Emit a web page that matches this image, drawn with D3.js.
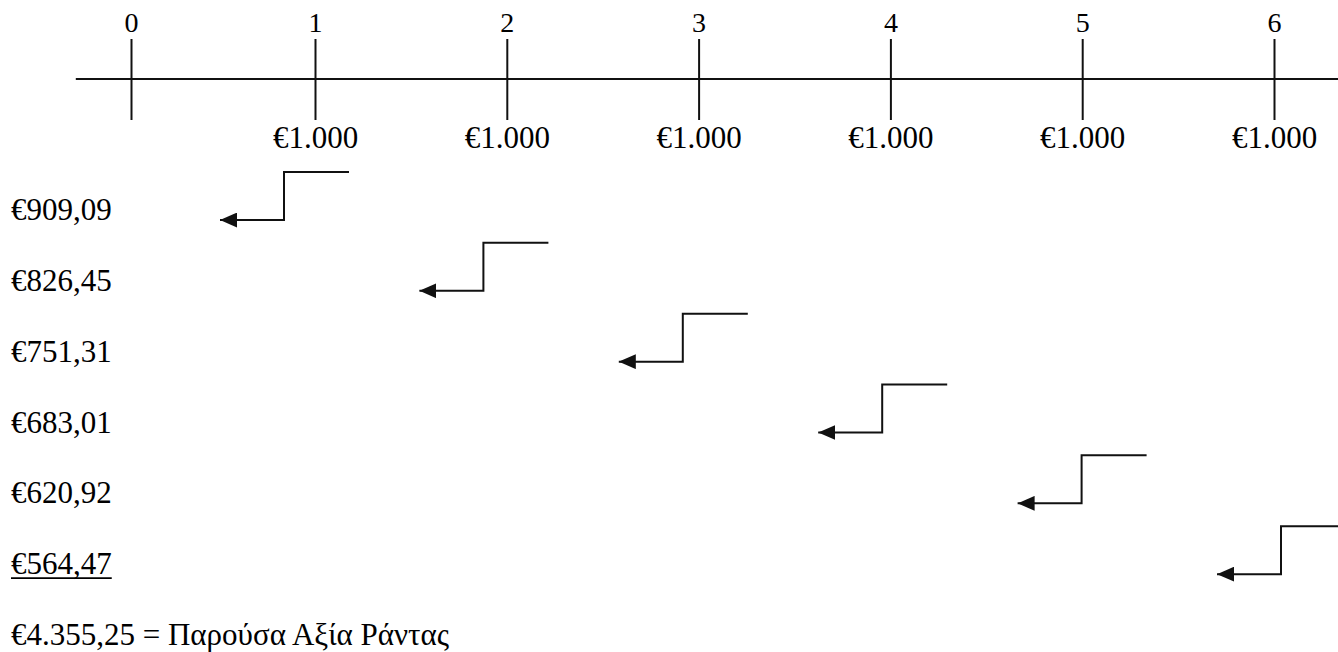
<!DOCTYPE html>
<html lang="el">
<head>
<meta charset="utf-8">
<title>Παρούσα Αξία Ράντας</title>
<script src="https://cdn.jsdelivr.net/npm/d3@7"></script>
<style>
  html, body { margin: 0; padding: 0; background: #fff; }
  svg { display: block; }
</style>
</head>
<body>
<script>
// Time periods of the annuity and the payment received at the end of each one
const periods = [0, 1, 2, 3, 4, 5, 6];
const payments = [0, 1000, 1000, 1000, 1000, 1000, 1000];
// Each payment discounted back to period 0
const presentValues = [909.09, 826.45, 751.31, 683.01, 620.92, 564.47];
const totalLabel = "Παρούσα Αξία Ράντας";

const W = 1338, H = 652;
const FONT = "'Liberation Serif', 'Times New Roman', serif";
const INK = "#111";

// Greek number formatting: comma decimals, dot thousands, euro prefix
const el = d3.formatLocale({ decimal: ",", thousands: ".", grouping: [3], currency: ["€", ""] });
const eur0 = el.format("$,.0f");
const eur2 = el.format("$,.2f");

const svg = d3.select("body").append("svg")
  .attr("width", W).attr("height", H)
  .attr("viewBox", `0 0 ${W} ${H}`);

// Horizontal time line
const x = d3.scaleLinear().domain([0, 1, 6]).range([131, 315, 1274]);
const axisY = 79;

svg.append("line")
  .attr("x1", x(-0.3)).attr("x2", W)
  .attr("y1", axisY).attr("y2", axisY)
  .attr("stroke", INK).attr("stroke-width", 2);

// Period numbers and upper half of the ticks
const gTop = svg.append("g")
  .attr("transform", `translate(0,${axisY})`)
  .call(d3.axisTop(x).tickValues(periods).tickSize(40).tickPadding(7).tickFormat(d3.format("d")));
gTop.select(".domain").remove();

// Payments and lower half of the ticks
const gBottom = svg.append("g")
  .attr("transform", `translate(0,${axisY})`)
  .call(d3.axisBottom(x).tickValues(periods).tickSize(41).tickPadding(6)
    .tickFormat((d, i) => payments[i] ? eur0(payments[i]) : ""));
gBottom.select(".domain").remove();

[gTop, gBottom].forEach(g => {
  g.attr("font-family", FONT);
  g.selectAll(".tick line").attr("stroke", INK).attr("stroke-width", 2);
  g.selectAll(".tick text").attr("fill", "#000");
});
gTop.attr("font-size", 28);
gBottom.attr("font-size", 31);

// Discounted values listed one per row
const yRow = d3.scaleLinear().domain([0, presentValues.length]).range([220, 645]);

const pvText = svg.append("g")
  .selectAll("text")
  .data(presentValues)
  .join("text")
  .attr("x", 11)
  .attr("y", (d, i) => yRow(i))
  .attr("font-family", FONT)
  .attr("font-size", 31)
  .attr("fill", "#000")
  .text(d => eur2(d));

// The last value is underlined before the sum
const lastNode = pvText.filter((d, i) => i === presentValues.length - 1).node();
const lastWidth = lastNode.getComputedTextLength();
const lastY = yRow(presentValues.length - 1) + 4;
svg.append("line")
  .attr("x1", 11).attr("x2", 11 + lastWidth)
  .attr("y1", lastY).attr("y2", lastY)
  .attr("stroke", "#000").attr("stroke-width", 1.6);

svg.append("text")
  .attr("x", 11)
  .attr("y", yRow(presentValues.length))
  .attr("font-family", FONT)
  .attr("font-size", 31)
  .attr("fill", "#000")
  .text(`${eur2(d3.sum(presentValues))} = ${totalLabel}`);

// Stepped arrows carrying each payment back to its present value
svg.append("defs").append("marker")
  .attr("id", "head")
  .attr("viewBox", "0 0 16 14")
  .attr("refX", 16).attr("refY", 7)
  .attr("markerWidth", 17).attr("markerHeight", 15)
  .attr("markerUnits", "userSpaceOnUse")
  .attr("orient", "auto")
  .append("path")
  .attr("d", "M0,0 L16,7 L0,14 Z")
  .attr("fill", INK);

const stepX = d3.scaleLinear().domain([1, 6]).range([284, 1281]);
const riseH = 48, topLen = 65, tailLen = 64;

svg.append("g")
  .selectAll("path")
  .data(presentValues)
  .join("path")
  .attr("d", (d, i) => {
    const vx = stepX(i + 1), yb = yRow(i), yt = yb - riseH;
    const p = d3.path();
    p.moveTo(vx + topLen, yt);
    p.lineTo(vx, yt);
    p.lineTo(vx, yb);
    p.lineTo(vx - tailLen, yb);
    return p.toString();
  })
  .attr("fill", "none")
  .attr("stroke", INK)
  .attr("stroke-width", 2)
  .attr("marker-end", "url(#head)");
</script>
</body>
</html>
